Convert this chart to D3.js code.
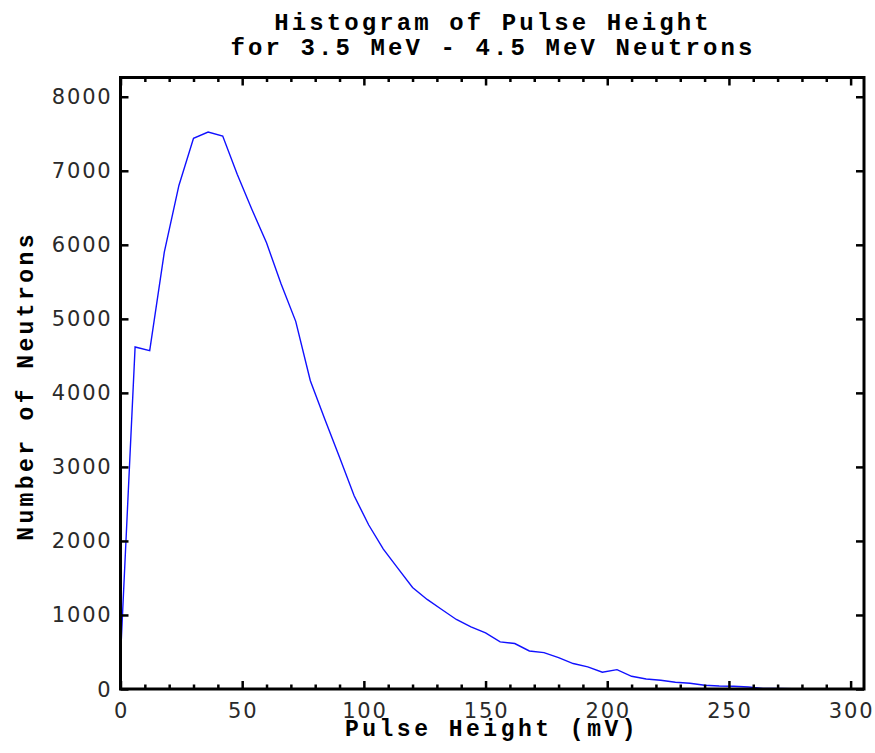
<!DOCTYPE html>
<html>
<head>
<meta charset="utf-8">
<script src="https://cdn.jsdelivr.net/npm/d3@7"></script>
<style>
  body { margin: 0; background: #fff; }
  .tick-label { font-family: "DejaVu Sans", sans-serif; font-size: 21px; letter-spacing: 1.8px; fill: #2a2a2a; }
  .title, .axis-title { font-family: "Liberation Mono", "Courier New", monospace; font-weight: bold; fill: #000; }
</style>
</head>
<body>
<div id="chart"></div>
<script>
// Pulse height bins (mV)
let pulseHeight = [0, 6, 12, 18, 24, 30, 36, 42, 48, 54, 60, 66, 72, 78, 84, 90, 96,
    102, 108, 114, 120, 126, 132, 138, 144, 150, 156, 162, 168, 174, 180, 186, 192, 198,
    204, 210, 216, 222, 228, 234, 240, 246, 252, 258, 264, 270, 276, 282, 288, 294, 300, 306];
// Neutron counts per bin
let neutronCounts = [433, 4620, 4570, 5900, 6802, 7438, 7524, 7470, 6951, 6478, 6027, 5470, 4966, 4164, 3640, 3130, 2610,
    2215, 1890, 1629, 1372, 1210, 1074, 939, 839, 758, 636, 614, 514, 492, 425, 344, 298, 226,
    262, 172, 135, 118, 91, 77, 50, 41, 37, 27, 9, 6, 5, 4, 3, 2, 2, 1];

let xMajorTicks = [0, 50, 100, 150, 200, 250, 300];
let xMinorTicks = [10, 20, 30, 40, 60, 70, 80, 90, 110, 120, 130, 140, 160, 170, 180, 190,
    210, 220, 230, 240, 260, 270, 280, 290];
let yTicks = [0, 1000, 2000, 3000, 4000, 5000, 6000, 7000, 8000];

let titleLines = ["Histogram of Pulse Height", "for 3.5 MeV - 4.5 MeV Neutrons"];
let xTitle = "Pulse Height (mV)";
let yTitle = "Number of Neutrons";

let margin = {top: 77.5, bottom: 64, left: 120.5, right: 11};
let width = 875 - margin.left - margin.right;
let height = 753 - margin.top - margin.bottom;

let svg = d3.select("#chart").append("svg")
    .attr("width", 875)
    .attr("height", 753);

let g = svg.append("g")
    .attr("transform", "translate(" + margin.left + "," + margin.top + ")");

let x = d3.scaleLinear().domain([0, 305.5]).range([0, width]);
let y = d3.scaleLinear().domain([0, 8260]).range([height, 0]);

g.append("clipPath").attr("id", "plot-clip")
    .append("rect").attr("width", width).attr("height", height);

// the curve
let line = d3.line()
    .x(function(d, i) { return x(pulseHeight[i]); })
    .y(function(d) { return y(d); });

g.append("path")
    .datum(neutronCounts)
    .attr("clip-path", "url(#plot-clip)")
    .attr("fill", "none")
    .attr("stroke", "#1010ff")
    .attr("stroke-width", 1.4)
    .attr("d", line);

// ticks drawn inward on all four sides
function styleAxis(sel, width) {
    sel.select(".domain").remove();
    sel.selectAll(".tick line").attr("stroke", "#000").attr("stroke-width", width);
    sel.selectAll(".tick text").remove();
}

g.append("g").attr("transform", "translate(0," + height + ")")
    .call(d3.axisBottom(x).tickValues(xMajorTicks).tickSize(-8)).call(styleAxis, 2.5);
g.append("g").attr("transform", "translate(0," + height + ")")
    .call(d3.axisBottom(x).tickValues(xMinorTicks).tickSize(-4.5)).call(styleAxis, 2.5);
g.append("g")
    .call(d3.axisTop(x).tickValues(xMajorTicks).tickSize(-8)).call(styleAxis, 2.5);
g.append("g")
    .call(d3.axisTop(x).tickValues(xMinorTicks).tickSize(-4.5)).call(styleAxis, 2.5);
g.append("g")
    .call(d3.axisLeft(y).tickValues(yTicks).tickSize(-8)).call(styleAxis, 2.5);
g.append("g").attr("transform", "translate(" + width + ",0)")
    .call(d3.axisRight(y).tickValues(yTicks).tickSize(-8)).call(styleAxis, 2.5);

// frame
g.append("rect")
    .attr("width", width)
    .attr("height", height)
    .attr("fill", "none")
    .attr("stroke", "#000")
    .attr("stroke-width", 3);

// tick labels
g.selectAll(".x-label")
    .data(xMajorTicks)
    .enter().append("text")
    .attr("class", "tick-label")
    .attr("x", function(d) { return x(d) + 1; })
    .attr("y", height + 29)
    .attr("text-anchor", "middle")
    .text(function(d) { return d; });

g.selectAll(".y-label")
    .data(yTicks)
    .enter().append("text")
    .attr("class", "tick-label")
    .attr("x", -8)
    .attr("y", function(d) { return y(d) + 7.5; })
    .attr("text-anchor", "end")
    .text(function(d) { return d; });

// titles
svg.selectAll(".title")
    .data(titleLines)
    .enter().append("text")
    .attr("class", "title")
    .attr("x", 493)
    .attr("y", function(d, i) { return 30 + i * 25; })
    .attr("text-anchor", "middle")
    .attr("font-size", "24px")
    .attr("letter-spacing", "3.1px")
    .text(function(d) { return d; });

svg.append("text")
    .attr("class", "axis-title")
    .attr("x", 492)
    .attr("y", 736)
    .attr("text-anchor", "middle")
    .attr("font-size", "23px")
    .attr("letter-spacing", "3.5px")
    .text(xTitle);

svg.append("text")
    .attr("class", "axis-title")
    .attr("transform", "translate(33,386) rotate(-90)")
    .attr("text-anchor", "middle")
    .attr("font-size", "23px")
    .attr("letter-spacing", "3.4px")
    .text(yTitle);
</script>
</body>
</html>
